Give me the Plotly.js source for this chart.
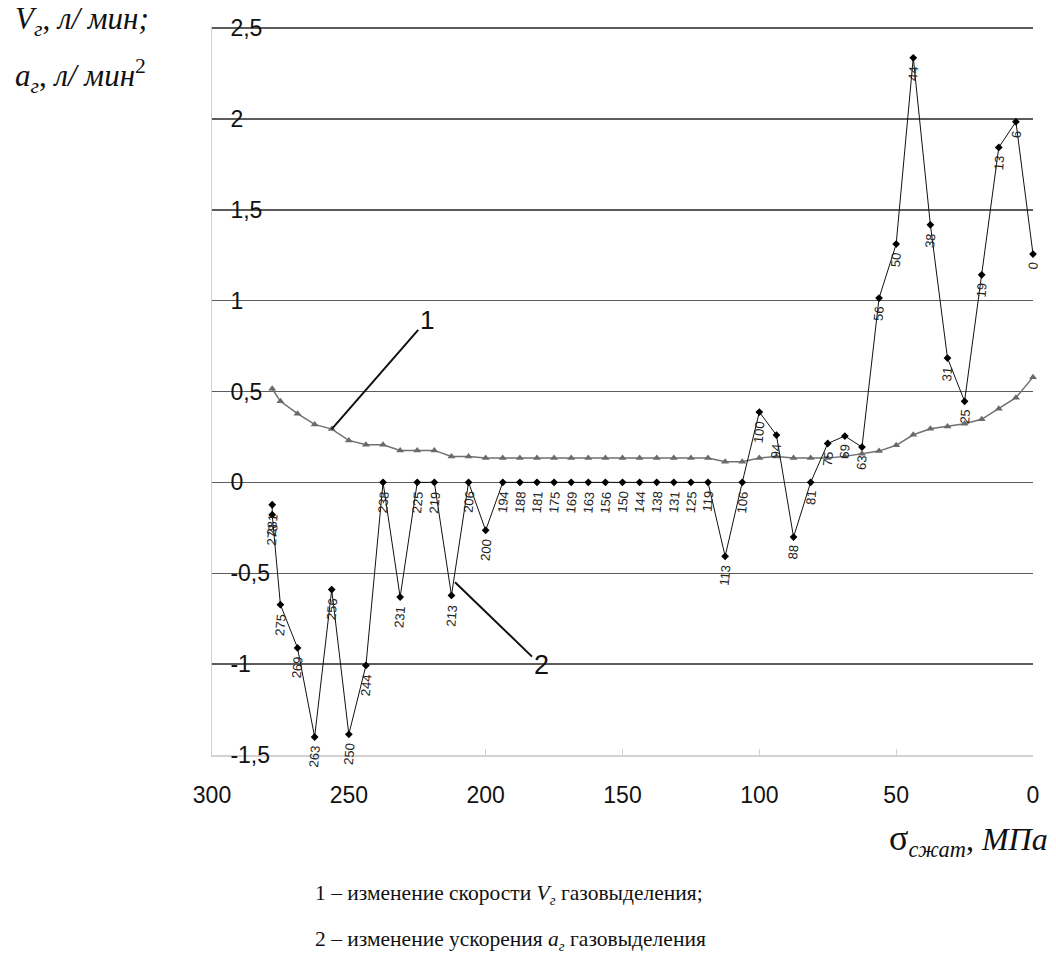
<!DOCTYPE html>
<html><head><meta charset="utf-8">
<script src="https://cdn.plot.ly/plotly-3.0.1.min.js"></script>
<style>html,body{margin:0;padding:0;background:#fff}#chart{width:1056px;height:980px}</style>
</head><body><div id="chart"></div>
<script>
// Series 1: gas release velocity V (triangles)
const pressure1 = [278, 275, 268.75, 262.5, 256.25, 250, 243.75, 237.5, 231.25, 225, 218.75, 212.5, 206.25, 200,
  193.75, 187.5, 181.25, 175, 168.75, 162.5, 156.25, 150, 143.75, 137.5, 131.25, 125, 118.75,
  112.5, 106.25, 100, 93.75, 87.5, 81.25, 75, 68.75, 62.5, 56.25, 50, 43.75, 37.5, 31.25, 25, 18.75, 12.5, 6.25, 0];
const velocity = [0.515, 0.446, 0.378, 0.319, 0.293, 0.231, 0.207, 0.207, 0.176, 0.176, 0.176, 0.143, 0.143, 0.134,
  0.134, 0.134, 0.134, 0.134, 0.134, 0.134, 0.134, 0.134, 0.134, 0.134, 0.134, 0.134, 0.134,
  0.114, 0.114, 0.134, 0.143, 0.134, 0.134, 0.134, 0.143, 0.158, 0.172, 0.204, 0.262, 0.295, 0.308, 0.323, 0.347, 0.405, 0.466, 0.579];

// Series 2: gas release acceleration a (diamonds)
const pressure2 = [278, 278, 275, 268.75, 262.5, 256.25, 250, 243.75, 237.5, 231.25, 225, 218.75, 212.5, 206.25, 200,
  193.75, 187.5, 181.25, 175, 168.75, 162.5, 156.25, 150, 143.75, 137.5, 131.25, 125, 118.75,
  112.5, 106.25, 100, 93.75, 87.5, 81.25, 75, 68.75, 62.5, 56.25, 50, 43.75, 37.5, 31.25, 25, 18.75, 12.5, 6.25, 0];
const acceleration = [-0.123, -0.178, -0.673, -0.911, -1.401, -0.590, -1.386, -1.007, 0, -0.631, 0, 0, -0.622, 0, -0.264,
  0, 0, 0, 0, 0, 0, 0, 0, 0, 0, 0, 0, 0,
  -0.407, 0, 0.387, 0.260, -0.301, 0, 0.214, 0.255, 0.194, 1.014, 1.311, 2.336, 1.417, 0.684, 0.446, 1.142, 1.843, 1.984, 1.256];
const pointLabels = ["281", "278", "275", "269", "263", "256", "250", "244", "238", "231", "225", "219", "213", "206", "200",
  "194", "188", "181", "175", "169", "163", "156", "150", "144", "138", "131", "125", "119",
  "113", "106", "100", "94", "88", "81", "75", "69", "63", "56", "50", "44", "38", "31", "25", "19", "13", "6", "0"];

const xTickVals = [300, 250, 200, 150, 100, 50, 0];
const xTickText = ["300", "250", "200", "150", "100", "50", "0"];
const yTickVals = [-1.5, -1, -0.5, 0, 0.5, 1, 1.5, 2, 2.5];
const yTickText = ["-1,5", "-1", "-0,5", "0", "0,5", "1", "1,5", "2", "2,5"];

const traces = [
  {x: pressure1, y: velocity, type: 'scatter', mode: 'lines+markers',
   line: {color: '#707070', width: 1.5},
   marker: {symbol: 'triangle-up', size: 7, color: '#6a6a6a'}, hoverinfo: 'skip', cliponaxis: false},
  {x: pressure2, y: acceleration, type: 'scatter', mode: 'lines+markers',
   line: {color: '#111', width: 1},
   marker: {symbol: 'diamond', size: 6, color: '#000'}, hoverinfo: 'skip', cliponaxis: false}
];

const sans = 'Liberation Sans, Arial, sans-serif';
const serif = 'Liberation Serif, Times New Roman, serif';

const anns = pressure2.map((x, i) => ({
  x: x, y: acceleration[i], xref: 'x', yref: 'y', text: pointLabels[i], textangle: -85,
  showarrow: false, xanchor: 'center', yanchor: 'top', yshift: -6,
  font: {family: sans, size: 13, color: '#222'}
}));

anns.push({x: pressure1[4], y: velocity[4], xref: 'x', yref: 'y', text: '1', showarrow: true,
  arrowhead: 0, arrowwidth: 2, arrowcolor: '#111', ax: 95, ay: -109,
  font: {family: sans, size: 26, color: '#111'}});
anns.push({x: 211.2, y: -0.55, xref: 'x', yref: 'y', text: '2', showarrow: true,
  arrowhead: 0, arrowwidth: 2, arrowcolor: '#111', ax: 86, ay: 83,
  font: {family: sans, size: 27, color: '#111'}});

anns.push({xref: 'paper', yref: 'paper', x: -0.2424, y: 1.0069, xanchor: 'left', yanchor: 'middle',
  text: '<i>V</i><sub><i>г</i></sub>, <i>л/ мин;</i>', showarrow: false, font: {family: serif, size: 31, color: '#111'}});
anns.push({xref: 'paper', yref: 'paper', x: -0.2424, y: 0.9314, xanchor: 'left', yanchor: 'middle',
  text: '<i>a</i><sub><i>г</i></sub>, <i>л/ мин</i><sup>2</sup>', showarrow: false, font: {family: serif, size: 31, color: '#111'}});
anns.push({xref: 'paper', yref: 'paper', x: 1.0207, y: -0.1166, xanchor: 'right', yanchor: 'middle',
  text: '<span style="font-size:36px">σ</span><sub><i>сжат</i></sub>, <i>МПа</i>', showarrow: false, font: {family: serif, size: 32, color: '#111'}});
anns.push({xref: 'paper', yref: 'paper', x: 0.123, y: -0.1920, xanchor: 'left', yanchor: 'middle',
  text: '1 – изменение скорости <i>V</i><sub><i>г</i></sub> газовыделения;', showarrow: false, font: {family: serif, size: 21.5, color: '#111'}});
anns.push({xref: 'paper', yref: 'paper', x: 0.123, y: -0.2551, xanchor: 'left', yanchor: 'middle',
  text: '2 – изменение ускорения <i>a</i><sub><i>г</i></sub> газовыделения', showarrow: false, font: {family: serif, size: 21.5, color: '#111'}});

const layout = {
  width: 1056, height: 980,
  margin: {l: 212, r: 23, t: 26, b: 225},
  paper_bgcolor: '#fff', plot_bgcolor: '#fff',
  showlegend: false,
  xaxis: {range: [300, 0], tickvals: xTickVals, ticktext: xTickText, showgrid: false, zeroline: false,
    showline: true, linecolor: '#d2d2d2', linewidth: 2, ticks: 'inside', ticklen: 6, tickcolor: '#d2d2d2',
    tickfont: {family: sans, size: 23, color: '#111'}, ticklabelstandoff: 18, ticklabeloverflow: 'allow'},
  yaxis: {range: [-1.5, 2.511], tickvals: yTickVals, ticktext: yTickText, showgrid: true, gridcolor: '#5c5c5c', gridwidth: 1.5,
    zeroline: false, showline: true, linecolor: '#d2d2d2', linewidth: 1.5, ticks: '',
    ticklabelposition: 'inside', ticklabelstandoff: 20, ticklabeloverflow: 'allow',
    tickfont: {family: sans, size: 23, color: '#111'}},
  annotations: anns
};

Plotly.newPlot('chart', traces, layout, {displayModeBar: false, staticPlot: true});
</script>
</body></html>
